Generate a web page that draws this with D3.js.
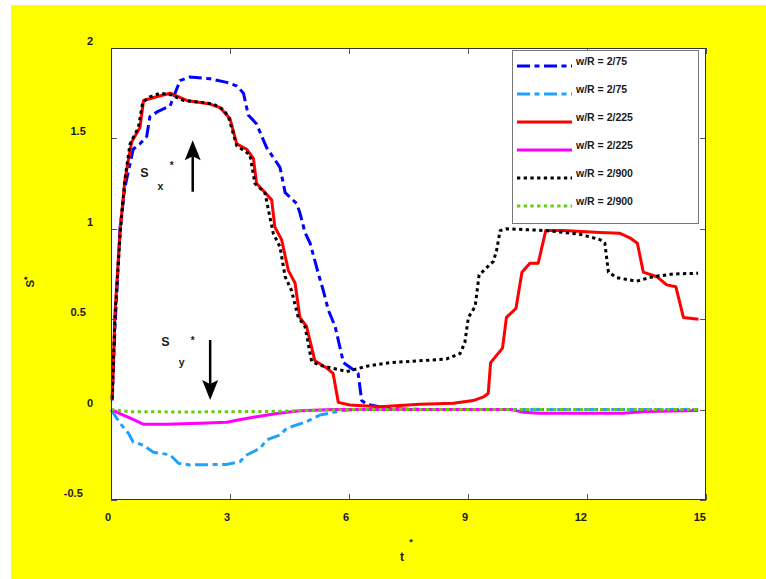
<!DOCTYPE html>
<html>
<head>
<meta charset="utf-8">
<script src="https://cdn.jsdelivr.net/npm/d3@7"></script>
<style>
  html, body { margin: 0; padding: 0; background: #ffffff; }
  svg { display: block; }
  text { font-family: "Liberation Sans", Arial, sans-serif; font-weight: bold; fill: #1a1a1a; }
</style>
</head>
<body>
<svg id="chart" width="766" height="579"></svg>
<script>
// ---------------- data ----------------
const xTicks = [0, 3, 6, 9, 12, 15];
const yTicks = [-0.5, 0, 0.5, 1, 1.5, 2];
const xTickLabels = ["0", "3", "6", "9", "12", "15"];
const yTickLabels = ["-0.5", "0", "0.5", "1", "1.5", "2"];

const seriesNames = ["w/R = 2/75", "w/R = 2/75", "w/R = 2/225", "w/R = 2/225", "w/R = 2/900", "w/R = 2/900"];

// Sx*, w/R = 2/75
const sx75_t = [0.03, 0.1, 0.23, 0.35, 0.56, 0.73, 0.9, 0.98, 1.19, 1.49, 1.74, 1.99, 2.5, 2.92, 3.17, 3.34, 3.46, 3.67, 3.92, 4.26, 4.39, 4.68, 4.76, 4.89, 5.02, 5.23, 5.35, 5.48, 5.65, 5.86, 6.11, 6.23, 6.32, 6.45, 7.0, 8.0, 10.0, 12.0, 14.8];
const sx75_s = [0.05, 0.45, 1.01, 1.23, 1.44, 1.47, 1.51, 1.62, 1.65, 1.68, 1.82, 1.84, 1.83, 1.81, 1.79, 1.75, 1.63, 1.58, 1.45, 1.34, 1.20, 1.14, 1.09, 0.98, 0.92, 0.75, 0.66, 0.55, 0.46, 0.26, 0.22, 0.20, 0.05, 0.03, 0.005, 0, 0, 0, 0];

// Sy*, w/R = 2/75
const sy75_t = [0, 0.23, 0.44, 0.56, 0.81, 1.07, 1.49, 1.7, 1.99, 2.92, 3.25, 3.42, 3.76, 3.92, 4.26, 4.43, 4.93, 5.27, 5.77, 6.11, 8.0, 10.0, 12.0, 14.8];
const sy75_s = [0, -0.076, -0.131, -0.18, -0.196, -0.236, -0.25, -0.297, -0.306, -0.303, -0.288, -0.251, -0.214, -0.168, -0.14, -0.103, -0.067, -0.03, -0.008, 0, 0, 0, 0, 0];

// Sx*, w/R = 2/225
const sx225_t = [0.03, 0.1, 0.23, 0.35, 0.52, 0.73, 0.82, 1.15, 1.49, 1.91, 2.5, 2.75, 3.0, 3.17, 3.42, 3.59, 3.67, 4.05, 4.13, 4.3, 4.47, 4.64, 4.76, 4.93, 5.14, 5.44, 5.6, 5.73, 6.02, 6.78, 7.79, 8.63, 9.13, 9.39, 9.51, 9.57, 9.87, 9.97, 10.21, 10.36, 10.56, 10.77, 10.96, 11.4, 12.33, 12.83, 13.08, 13.27, 13.42, 13.76, 14.01, 14.24, 14.43, 14.81];
const sx225_s = [0.06, 0.53, 0.99, 1.27, 1.48, 1.56, 1.71, 1.73, 1.75, 1.71, 1.69, 1.67, 1.61, 1.47, 1.44, 1.39, 1.25, 1.16, 1.01, 0.94, 0.77, 0.70, 0.51, 0.46, 0.27, 0.23, 0.20, 0.04, 0.025, 0.016, 0.03, 0.035, 0.05, 0.07, 0.09, 0.26, 0.34, 0.51, 0.56, 0.76, 0.81, 0.81, 0.99, 0.99, 0.98, 0.975, 0.95, 0.92, 0.76, 0.735, 0.69, 0.68, 0.51, 0.50];

// Sy*, w/R = 2/225
const sy225_t = [0, 0.31, 0.6, 0.81, 1.4, 2.24, 2.92, 3.17, 3.67, 4.18, 4.76, 5.6, 10.1, 10.4, 10.8, 12.9, 13.5, 14.8];
const sy225_s = [0, -0.03, -0.058, -0.081, -0.081, -0.076, -0.07, -0.059, -0.039, -0.021, -0.006, 0, 0, -0.015, -0.02, -0.02, -0.01, -0.005];

// Sx*, w/R = 2/900
const sx900_t = [0.03, 0.1, 0.23, 0.35, 0.48, 0.69, 0.8, 0.98, 1.24, 1.53, 1.82, 2.24, 2.58, 2.83, 2.96, 3.17, 3.5, 3.63, 3.88, 4.09, 4.26, 4.39, 4.55, 4.72, 4.89, 5.06, 5.35, 5.77, 5.94, 6.45, 7.03, 7.79, 8.46, 8.8, 8.92, 9.01, 9.18, 9.28, 9.64, 9.72, 9.81, 9.97, 10.98, 11.82, 12.33, 12.45, 12.54, 12.75, 13.25, 13.67, 14.17, 14.8];
const sx900_s = [0.06, 0.51, 0.97, 1.27, 1.47, 1.56, 1.70, 1.73, 1.75, 1.74, 1.71, 1.70, 1.69, 1.66, 1.62, 1.46, 1.41, 1.25, 1.20, 0.975, 0.90, 0.735, 0.66, 0.51, 0.46, 0.265, 0.24, 0.22, 0.21, 0.24, 0.26, 0.27, 0.28, 0.31, 0.37, 0.51, 0.57, 0.745, 0.82, 0.88, 0.99, 1.0, 0.99, 0.97, 0.94, 0.92, 0.76, 0.73, 0.71, 0.735, 0.75, 0.754];

// Sy*, w/R = 2/900
const sy900_t = [0, 0.5, 2.0, 4.0, 5.0, 6.0, 14.8];
const sy900_s = [0, -0.012, -0.013, -0.01, -0.005, 0, 0];

// ---------------- styles ----------------
const seriesStyles = [
  { color: "#0000ff", dash: "13,4.5,5,4.5" },
  { color: "#1fa2ff", dash: "13,4.5,5,4.5" },
  { color: "#ff0000", dash: null },
  { color: "#ff00ff", dash: null },
  { color: "#000000", dash: "3.3,3.4" },
  { color: "#66cc11", dash: "3.3,3.4" }
];
const seriesData = [
  [sx75_t, sx75_s], [sy75_t, sy75_s],
  [sx225_t, sx225_s], [sy225_t, sy225_s],
  [sx900_t, sx900_s], [sy900_t, sy900_s]
];

// ---------------- layout ----------------
const W = 766, H = 579;
const plot = { left: 111, right: 706, top: 48, bottom: 500 };

const svg = d3.select("#chart");
svg.append("rect").attr("x", 0).attr("y", 0).attr("width", W).attr("height", H).attr("fill", "#ffffff");
svg.append("rect").attr("x", 11).attr("y", 5).attr("width", W - 11).attr("height", H - 5).attr("fill", "#ffff00");
svg.append("rect").attr("x", plot.left).attr("y", plot.top)
  .attr("width", plot.right - plot.left).attr("height", plot.bottom - plot.top).attr("fill", "#ffffff");

const x = d3.scaleLinear().domain([0, 15]).range([plot.left, plot.right]);
const y = d3.scaleLinear().domain([-0.5, 2]).range([plot.bottom, plot.top]);

// ticks (inward, mirrored)
const tickG = svg.append("g").attr("stroke", "#555").attr("stroke-width", 1);
xTicks.forEach(v => {
  const px = Math.round(x(v)) + 0.5;
  tickG.append("line").attr("x1", px).attr("x2", px).attr("y1", plot.bottom).attr("y2", plot.bottom - 6);
  tickG.append("line").attr("x1", px).attr("x2", px).attr("y1", plot.top).attr("y2", plot.top + 6);
});
yTicks.forEach(v => {
  const py = Math.round(y(v)) + 0.5;
  tickG.append("line").attr("x1", plot.left).attr("x2", plot.left + 6).attr("y1", py).attr("y2", py);
  tickG.append("line").attr("x1", plot.right).attr("x2", plot.right - 6).attr("y1", py).attr("y2", py);
});

// tick labels
xTicks.forEach((v, i) => {
  svg.append("text").attr("x", x(v)).attr("y", 521)
    .attr("text-anchor", "end").attr("font-size", 11).text(xTickLabels[i]);
});
yTicks.forEach((v, i) => {
  const t = svg.append("text").attr("y", y(v) - 3).attr("font-size", 11).text(yTickLabels[i]);
  const w = t.node().getComputedTextLength();
  t.attr("x", 98 - 1.8 * w);
});

// series
const line = d3.line().x(d => x(d[0])).y(d => y(d[1]));
const linesG = svg.append("g");
seriesData.forEach((sd, i) => {
  const pts = sd[0].map((t, k) => [t, sd[1][k]]);
  const p = linesG.append("path").datum(pts).attr("d", line)
    .attr("fill", "none").attr("stroke", seriesStyles[i].color)
    .attr("stroke-width", 3).attr("stroke-linejoin", "round");
  if (seriesStyles[i].dash) p.attr("stroke-dasharray", seriesStyles[i].dash);
});

// frame
svg.append("rect").attr("x", plot.left + 0.5).attr("y", plot.top + 0.5)
  .attr("width", plot.right - plot.left - 1).attr("height", plot.bottom - plot.top - 1)
  .attr("fill", "none").attr("stroke", "#333").attr("stroke-width", 1);

// legend
const lg = svg.append("g");
lg.append("rect").attr("x", 512.5).attr("y", 50.5).attr("width", 186).attr("height", 173)
  .attr("fill", "#ffffff").attr("stroke", "#777").attr("stroke-width", 1);
seriesNames.forEach((name, i) => {
  const ly = 66 + 28 * i;
  const l = lg.append("line").attr("x1", 517).attr("x2", 572).attr("y1", ly).attr("y2", ly)
    .attr("stroke", seriesStyles[i].color).attr("stroke-width", 3);
  if (seriesStyles[i].dash) l.attr("stroke-dasharray", seriesStyles[i].dash);
  lg.append("text").attr("x", 576).attr("y", ly - 1.5).attr("font-size", 10.5).text(name);
});

// annotations
const ann = svg.append("g");
function arrow(xv, yFrom, yTo) {
  const px = x(xv), y0 = y(yFrom), y1 = y(yTo);
  const dir = y1 < y0 ? -1 : 1; // -1 up
  const headLen = 20, headW = 8, notch = 4;
  ann.append("line").attr("x1", px).attr("x2", px).attr("y1", y0).attr("y2", y1 - dir * (headLen - notch))
    .attr("stroke", "#000").attr("stroke-width", 2.5);
  const pts = [[px, y1], [px - headW, y1 - dir * headLen], [px, y1 - dir * (headLen - notch)], [px + headW, y1 - dir * headLen]];
  ann.append("polygon").attr("points", pts.map(p => p.join(",")).join(" ")).attr("fill", "#000");
}
arrow(2.06, 1.205, 1.49);
arrow(2.50, 0.385, 0.053);

ann.append("text").attr("x", 144.3).attr("y", 177).attr("text-anchor", "middle").attr("font-size", 12.5).text("S");
ann.append("text").attr("x", 160.3).attr("y", 190).attr("text-anchor", "middle").attr("font-size", 10.5).text("x");
ann.append("text").attr("x", 171.7).attr("y", 169).attr("text-anchor", "middle").attr("font-size", 10).text("*");
ann.append("text").attr("x", 165.3).attr("y", 346).attr("text-anchor", "middle").attr("font-size", 12.5).text("S");
ann.append("text").attr("x", 181.7).attr("y", 366).attr("text-anchor", "middle").attr("font-size", 10.5).text("y");
ann.append("text").attr("x", 192.7).attr("y", 344).attr("text-anchor", "middle").attr("font-size", 10).text("*");

// axis titles
const yt = svg.append("text").attr("transform", "translate(34,282) rotate(-90)")
  .attr("text-anchor", "middle").attr("font-size", 11.5);
yt.append("tspan").text("S");
yt.append("tspan").attr("font-size", 9).attr("dy", -4).text("*");

svg.append("text").attr("x", 402).attr("y", 561).attr("text-anchor", "middle").attr("font-size", 12).text("t");
svg.append("text").attr("x", 411).attr("y", 545).attr("text-anchor", "middle").attr("font-size", 9).text("*");
</script>
</body>
</html>
